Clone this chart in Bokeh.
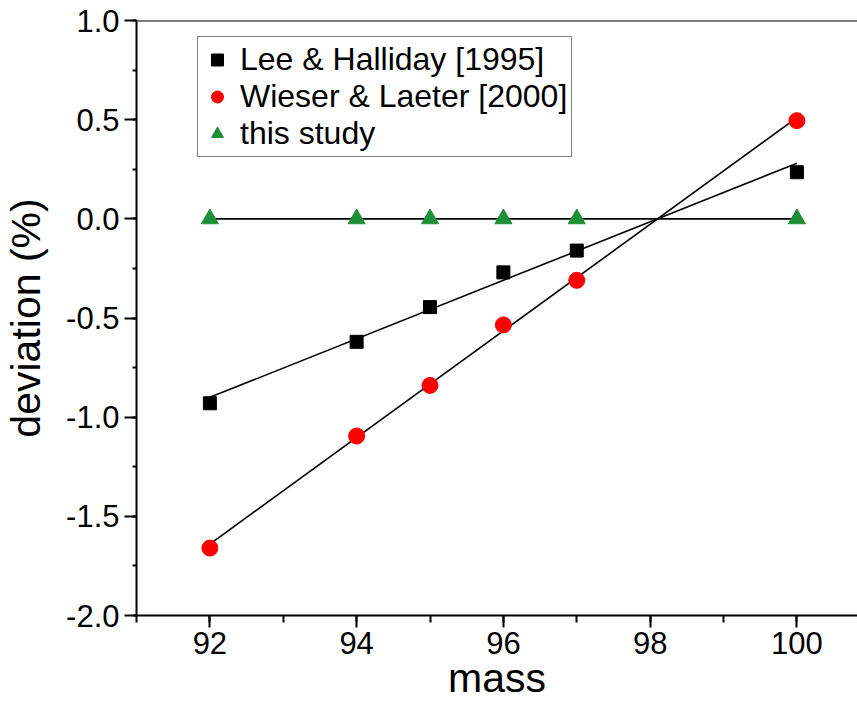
from bokeh.plotting import figure
from bokeh.models import (Range1d, Legend, LegendItem, Span,
                          SingleIntervalTicker, PrintfTickFormatter)
from bokeh.embed import file_html
from bokeh.resources import INLINE

# ---- data ----
mass = [92, 94, 95, 96, 97, 100]
dev_lee = [-0.93, -0.62, -0.445, -0.27, -0.16, 0.235]
dev_wieser = [-1.66, -1.095, -0.84, -0.535, -0.31, 0.495]
dev_study = [0.0, 0.0, 0.0, 0.0, 0.0, 0.0]

fit_mass = [92, 100]
fit_lee = [-0.90, 0.28]
fit_wieser = [-1.64, 0.51]
fit_study = [0.0, 0.0]

labels = ["Lee & Halliday [1995]", "Wieser & Laeter [2000]", "this study"]

FONT = "Liberation Sans"
GREEN = "#1d8f36"

p = figure(width=857, height=703,
           x_range=Range1d(91.0, 100.826), y_range=Range1d(-2.0, 1.0),
           output_backend="svg", toolbar_location=None,
           min_border_left=136, min_border_top=20, min_border_right=0,
           min_border_bottom=88)
p.outline_line_color = None
p.xgrid.visible = False
p.ygrid.visible = False

# fit lines
p.line(fit_mass, fit_lee, line_color="black", line_width=1.6)
p.line(fit_mass, fit_wieser, line_color="black", line_width=1.6)
p.line(fit_mass, fit_study, line_color="black", line_width=1.6)

r_lee = p.scatter(mass, dev_lee, marker="square", size=13,
                  fill_color="black", line_color="black")
r_wie = p.scatter(mass, dev_wieser, marker="circle", size=16,
                  fill_color="red", line_color="red")
r_stu = p.scatter(mass, dev_study, marker="triangle", size=17,
                  fill_color=GREEN, line_color=GREEN)

# top frame line
p.add_layout(Span(location=1.0, dimension="width", line_color="black",
                  line_width=2))

# axes
xa = p.xaxis[0]
xa.ticker = SingleIntervalTicker(interval=2, num_minor_ticks=2)
xa.formatter = PrintfTickFormatter(format="%d")
xa.axis_label = "mass"
ya = p.yaxis[0]
ya.ticker = SingleIntervalTicker(interval=0.5, num_minor_ticks=2)
ya.formatter = PrintfTickFormatter(format="%.1f")
ya.axis_label = "deviation (%)"

for ax in (xa, ya):
    ax.axis_line_width = 2
    ax.major_tick_line_width = 2
    ax.minor_tick_line_width = 2
    ax.major_tick_in = 0
    ax.minor_tick_in = 0
    ax.major_tick_out = 12
    ax.major_label_text_font = FONT
    ax.major_label_text_font_size = "31px"
    ax.major_label_text_color = "black"
    ax.axis_label_text_font = FONT
    ax.axis_label_text_font_size = "41px"
    ax.axis_label_text_font_style = "normal"
    ax.axis_label_text_color = "black"
xa.minor_tick_out = 7
ya.minor_tick_out = 4
xa.major_label_standoff = 4
ya.major_label_standoff = 5
xa.axis_label_standoff = -2
ya.axis_label_standoff = 14

legend = Legend(items=[LegendItem(label=labels[0], renderers=[r_lee]),
                       LegendItem(label=labels[1], renderers=[r_wie]),
                       LegendItem(label=labels[2], renderers=[r_stu])],
                location=(61, 458))
legend.label_text_font = FONT
legend.label_text_font_size = "32px"
legend.label_text_color = "black"
legend.glyph_width = 30
legend.glyph_height = 33
legend.label_height = 33
legend.padding = 4
legend.spacing = -3
legend.label_standoff = 8
legend.margin = 0
legend.border_line_color = "black"
legend.border_line_width = 1.5
legend.background_fill_alpha = 1.0
p.add_layout(legend)

open("out.html", "w").write(file_html(p, INLINE))
